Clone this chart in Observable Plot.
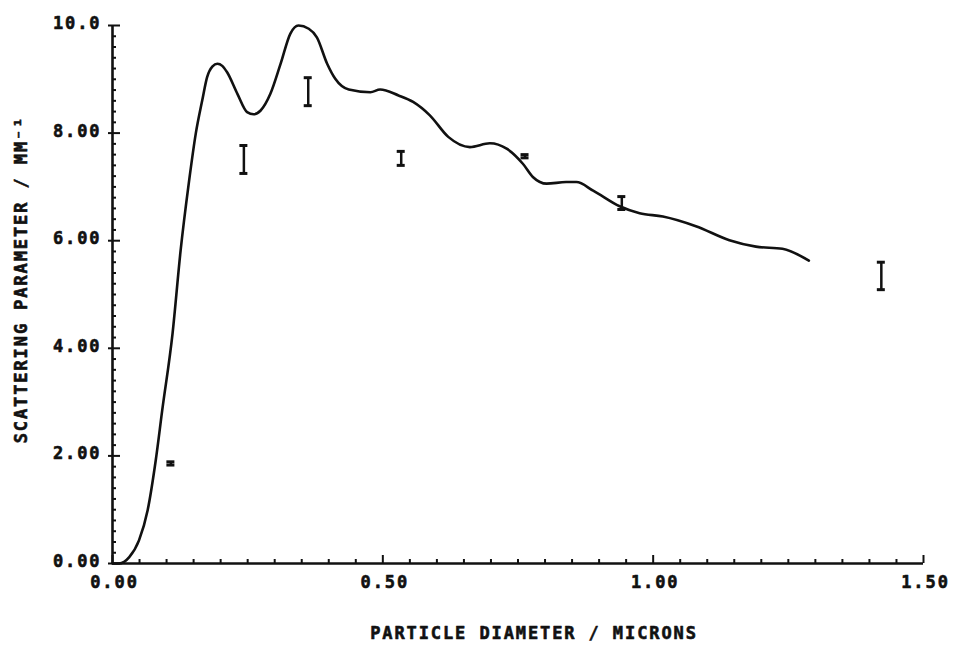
<!DOCTYPE html>
<html><head><meta charset="utf-8">
<script src="https://cdn.jsdelivr.net/npm/d3@7"></script>
<script src="https://cdn.jsdelivr.net/npm/@observablehq/plot@0.6"></script>
<style>body{margin:0;background:#fff;} svg{display:block;}</style>
</head><body><div id="chart"></div>
<script>
// Theory curve: particle diameter (microns) vs scattering parameter (mm^-1)
const curveX = [0.000, 0.012, 0.031, 0.049, 0.065, 0.080, 0.092, 0.111, 0.126, 0.141, 0.154, 0.166, 0.175, 0.185, 0.194, 0.203, 0.212, 0.231, 0.249, 0.261, 0.274, 0.292, 0.311, 0.329, 0.344, 0.363, 0.378, 0.397, 0.412, 0.437, 0.477, 0.495, 0.529, 0.556, 0.587, 0.621, 0.661, 0.698, 0.729, 0.759, 0.778, 0.803, 0.839, 0.858, 0.889, 0.938, 0.975, 1.018, 1.079, 1.141, 1.190, 1.239, 1.288];
const curveY = [0.00, 0.00, 0.12, 0.43, 0.99, 1.92, 2.85, 4.27, 5.82, 7.06, 7.99, 8.61, 9.04, 9.24, 9.29, 9.25, 9.13, 8.73, 8.39, 8.35, 8.42, 8.73, 9.29, 9.85, 10.00, 9.94, 9.78, 9.29, 9.01, 8.81, 8.76, 8.81, 8.70, 8.58, 8.33, 7.93, 7.74, 7.81, 7.71, 7.43, 7.18, 7.06, 7.09, 7.09, 6.93, 6.64, 6.51, 6.45, 6.27, 6.01, 5.89, 5.85, 5.63];
// Measured values with error bars
const errX  = [0.108, 0.243, 0.362, 0.534, 0.763, 0.942, 1.422];
const errLo = [1.83, 7.25, 8.51, 7.40, 7.54, 6.58, 5.09];
const errHi = [1.89, 7.77, 9.03, 7.66, 7.60, 6.82, 5.60];
// Axes
const xMajor = [0, 0.5, 1.0, 1.5];
const xTickLabels = ["0.00", "0.50", "1.00", "1.50"];
const yMajor = [0, 2, 4, 6, 8, 10];
const yTickLabels = ["0.00", "2.00", "4.00", "6.00", "8.00", "10.0"];
const xMinor = d3.range(1, 30).filter(i => i % 10 !== 0).map(i => i * 0.05);
const yMinor = d3.range(1, 50).filter(i => i % 10 !== 0).map(i => i * 0.2);
const xLabel = "PARTICLE DIAMETER / MICRONS";
const yLabel = "SCATTERING PARAMETER / MM⁻¹";

const curve = curveX.map((x, i) => ({x, y: curveY[i]}));
const errs = errX.map((x, i) => ({x, lo: errLo[i], hi: errHi[i]}));
const ink = "#111";
const font = "'DejaVu Sans Mono', monospace";
const txt = {fontSize: 17, fontWeight: "bold", fill: ink, stroke: ink, strokeWidth: 0.6};

const chart = Plot.plot({
  width: 959, height: 647,
  marginLeft: 112, marginRight: 36, marginTop: 25, marginBottom: 84,
  x: {domain: [0, 1.5], axis: null},
  y: {domain: [0, 10], axis: null},
  style: {background: "#fff", fontFamily: font, fontWeight: "bold", letterSpacing: "1.9px", color: ink},
  marks: [
    // axis lines
    Plot.ruleY([0], {x1: 0, x2: 1.5, stroke: ink, strokeWidth: 2.6}),
    Plot.ruleX([0], {y1: 0, y2: 10, stroke: ink, strokeWidth: 2.6}),
    // inward ticks
    Plot.ruleX(xMinor, {x: d => d, y1: 0, y2: 0, insetTop: 0, insetBottom: 4, stroke: ink, strokeWidth: 2}),
    Plot.ruleX(xMajor, {x: d => d, y1: 0, y2: 0, insetTop: 0, insetBottom: 8, stroke: ink, strokeWidth: 2}),
    Plot.ruleY(yMinor, {y: d => d, x1: 0, x2: 0, insetLeft: 0, insetRight: -4, stroke: ink, strokeWidth: 2}),
    Plot.ruleY(yMajor, {y: d => d, x1: 0, x2: 0, insetLeft: -4, insetRight: -8, stroke: ink, strokeWidth: 2}),
    // tick labels
    Plot.text(xMajor, {x: d => d, y: 0, text: (d, i) => xTickLabels[i], dy: 19, dx: 2, ...txt}),
    Plot.text(yMajor, {x: 0, y: d => d, text: (d, i) => yTickLabels[i], textAnchor: "end", dx: -11, dy: -2, ...txt}),
    // axis titles
    Plot.text([xLabel], {frameAnchor: "bottom", text: d => d, textAnchor: "middle", lineAnchor: "middle", dx: 16, dy: 70, ...txt}),
    Plot.text([yLabel], {frameAnchor: "left", text: d => d, textAnchor: "middle", lineAnchor: "middle", rotate: -90, dx: -91, dy: -15, ...txt}),
    // theory curve
    Plot.line(curve, {x: "x", y: "y", curve: "monotone-x", stroke: ink, strokeWidth: 2.6}),
    // measured error bars
    Plot.ruleX(errs, {x: "x", y1: "lo", y2: "hi", stroke: ink, strokeWidth: 2.5}),
    Plot.ruleY(errs, {y: "lo", x1: "x", x2: "x", insetLeft: -4, insetRight: -4, stroke: ink, strokeWidth: 3}),
    Plot.ruleY(errs, {y: "hi", x1: "x", x2: "x", insetLeft: -4, insetRight: -4, stroke: ink, strokeWidth: 3})
  ]
});
document.getElementById("chart").appendChild(chart);
</script>
</body></html>
